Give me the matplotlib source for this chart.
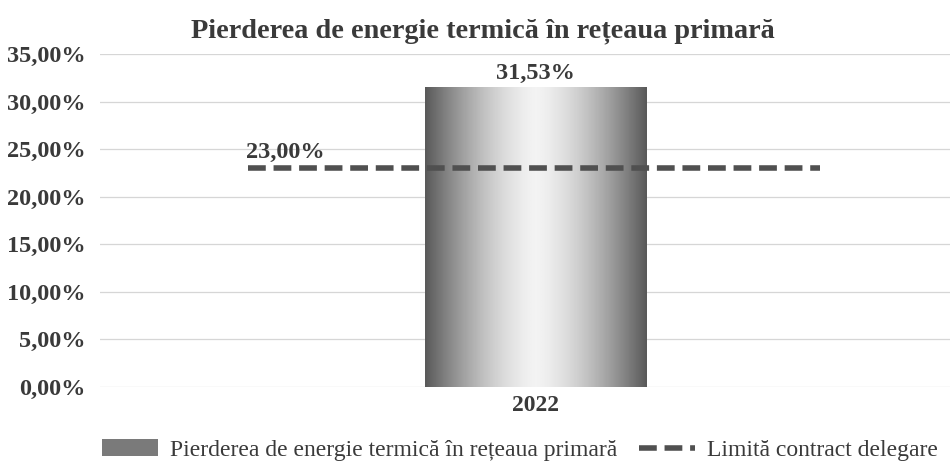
import numpy as np
import matplotlib
matplotlib.use("Agg")
import matplotlib.pyplot as plt

# date
categorii = ["2022"]
pierderi = [0.3153]
limita = 0.23
eticheta_pierderi = ["31,53%"]
eticheta_limita = "23,00%"
ticks_y = [0.0, 0.05, 0.10, 0.15, 0.20, 0.25, 0.30, 0.35]
etichete_y = ["0,00%", "5,00%", "10,00%", "15,00%", "20,00%", "25,00%", "30,00%", "35,00%"]

plt.rcParams["font.family"] = ["Liberation Serif", "DejaVu Serif"]
text_color = "#3a3a3a"

fig = plt.figure(figsize=(9.51, 4.65), dpi=100)
ax = fig.add_axes([0.105, 0.168, 0.894, 0.716])

x = np.arange(len(categorii))
bare = ax.bar(x, pierderi, width=0.26, color="#7a7a7a", zorder=2,
              label="Pierderea de energie termică în rețeaua primară")

# umplere in degrade (inchis la margini, deschis la mijloc)
for b in bare:
    x0, y0 = b.get_x(), b.get_y()
    w, h = b.get_width(), b.get_height()
    prof = np.abs(np.linspace(-1, 1, 200))
    grad = 0.35 + 0.6 * (1 - prof ** 1.5)
    grad = np.tile(grad, (50, 1))
    im = ax.imshow(grad, cmap="gray", vmin=0, vmax=1, aspect="auto",
                   extent=[x0, x0 + w, y0, y0 + h], zorder=2.5)
    im.set_clip_path(b)

linie = ax.axhline(limita, xmin=0.174, xmax=0.847, color="#505050", lw=4,
                   dashes=(3.2, 1.4), zorder=3, label="Limită contract delegare")

for xi, v, t in zip(x, pierderi, eticheta_pierderi):
    ax.text(xi, v + 0.003, t, ha="center", va="bottom", fontsize=17.5,
            fontweight="bold", color=text_color, zorder=4)
ax.text(-0.34, limita + 0.005, eticheta_limita, ha="left", va="bottom",
        fontsize=17.5, fontweight="bold", color=text_color, zorder=4)

ax.set_xlim(-0.512, 0.488)
ax.set_ylim(0, 0.35)
ax.set_yticks(ticks_y)
ax.set_yticklabels(etichete_y, fontsize=17.5, fontweight="bold", color=text_color)
ax.set_xticks(x)
ax.set_xticklabels(categorii, fontsize=17, fontweight="bold", color=text_color)
ax.tick_params(length=0, pad=10)
ax.tick_params(axis="x", pad=6)
ax.grid(axis="y", color="#d6d6d6", lw=0.9, zorder=0)
ax.set_axisbelow(True)
for s in ax.spines.values():
    s.set_visible(False)

fig.text(483 / 951, 1 - 31 / 465, "Pierderea de energie termică în rețeaua primară",
         ha="center", va="center", fontsize=20.3, fontweight="bold", color=text_color)

leg = ax.legend([bare, linie],
                ["Pierderea de energie termică în rețeaua primară", "Limită contract delegare"],
                loc="center", bbox_to_anchor=(0.494, -0.19), ncol=2,
                frameon=False, fontsize=17, handlelength=2.4, columnspacing=0.9,
                handletextpad=0.5, borderpad=0.1, labelcolor=text_color)

fig.savefig("out.png", dpi=100)
